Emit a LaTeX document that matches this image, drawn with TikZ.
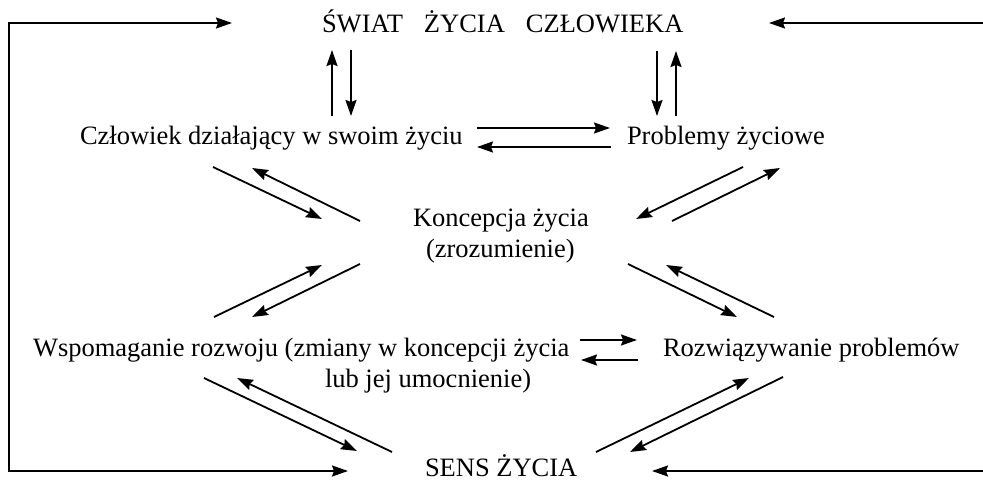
\documentclass[tikz,border=0pt]{standalone}
\usepackage{fontspec}
\setmainfont{Liberation Serif}
\usetikzlibrary{arrows.meta}
\tikzset{
  lbl/.style={inner sep=0pt, outer sep=0pt, anchor=base west, font=\fontsize{26.5}{31}\selectfont},
  arr/.style={line width=1.8pt, -{Stealth[length=16pt, width=11pt, inset=2pt]}},
  darr/.style={line width=1.8pt, {Stealth[length=16pt, width=11pt, inset=2pt]}-{Stealth[length=16pt, width=11pt, inset=2pt]}},
}
\begin{document}
\begin{tikzpicture}[x=1pt,y=-1pt]
\useasboundingbox (0,0) rectangle (983,481);
% texts
\node[lbl] (swiat) at (322,33) {ŚWIAT\hspace{21pt}ŻYCIA\hspace{21pt}CZŁOWIEKA};
\node[lbl] (czl) at (80,145) {Człowiek działający w swoim życiu};
\node[lbl] (prob) at (627,145) {Problemy życiowe};
\node[lbl] (kon1) at (413,227) {Koncepcja życia};
\node[lbl] (kon2) at (426,258) {(zrozumienie)};
\node[lbl] (wsp1) at (33,356) {Wspomaganie rozwoju (zmiany w koncepcji życia};
\node[lbl] (wsp2) at (325,387) {lub jej umocnienie)};
\node[lbl] (roz) at (663,356) {Rozwiązywanie problemów};
\node[lbl] (sens) at (425,476) {SENS ŻYCIA};
% coordinates
\coordinate (lt) at (232,23); \coordinate (lc1) at (9,23); \coordinate (lc2) at (9,471); \coordinate (lb) at (348,471);
\coordinate (rt) at (769,23); \coordinate (rc1) at (995,23); \coordinate (rc2) at (995,471); \coordinate (rb) at (652,471);
\coordinate (a1s) at (332,116); \coordinate (a1e) at (332,50);
\coordinate (a2s) at (351,50); \coordinate (a2e) at (351,116);
\coordinate (a3s) at (657,51); \coordinate (a3e) at (657,116);
\coordinate (a4s) at (676,116); \coordinate (a4e) at (676,51);
\coordinate (h1s) at (477,128); \coordinate (h1e) at (610,128);
\coordinate (h2s) at (611,147); \coordinate (h2e) at (477,147);
\coordinate (d1s) at (213,167); \coordinate (d1e) at (322,219);
\coordinate (d2s) at (360,221); \coordinate (d2e) at (252,168);
\coordinate (d3s) at (743,167); \coordinate (d3e) at (636,219);
\coordinate (d4s) at (672,221); \coordinate (d4e) at (780,168);
\coordinate (d5s) at (214,317); \coordinate (d5e) at (322,265);
\coordinate (d6s) at (360,264); \coordinate (d6e) at (252,317);
\coordinate (d7s) at (628,264); \coordinate (d7e) at (737,317);
\coordinate (d8s) at (774,317); \coordinate (d8e) at (666,265);
\coordinate (h3s) at (580,340); \coordinate (h3e) at (637,340);
\coordinate (h4s) at (638,360); \coordinate (h4e) at (581,360);
\coordinate (d9s) at (204,378); \coordinate (d9e) at (357,451);
\coordinate (d10s) at (392,452); \coordinate (d10e) at (237,378);
\coordinate (d11s) at (596,452); \coordinate (d11e) at (749,378);
\coordinate (d12s) at (783,377); \coordinate (d12e) at (630,452);
% connectors
\draw[darr] (lt) -- (lc1) -- (lc2) -- (lb);
\draw[darr] (rt) -- (rc1) -- (rc2) -- (rb);
\foreach \n in {a1,a2,a3,a4,h1,h2,h3,h4,d1,d2,d3,d4,d5,d6,d7,d8,d9,d10,d11,d12}
  \draw[arr] (\n s) -- (\n e);
\end{tikzpicture}
\end{document}
